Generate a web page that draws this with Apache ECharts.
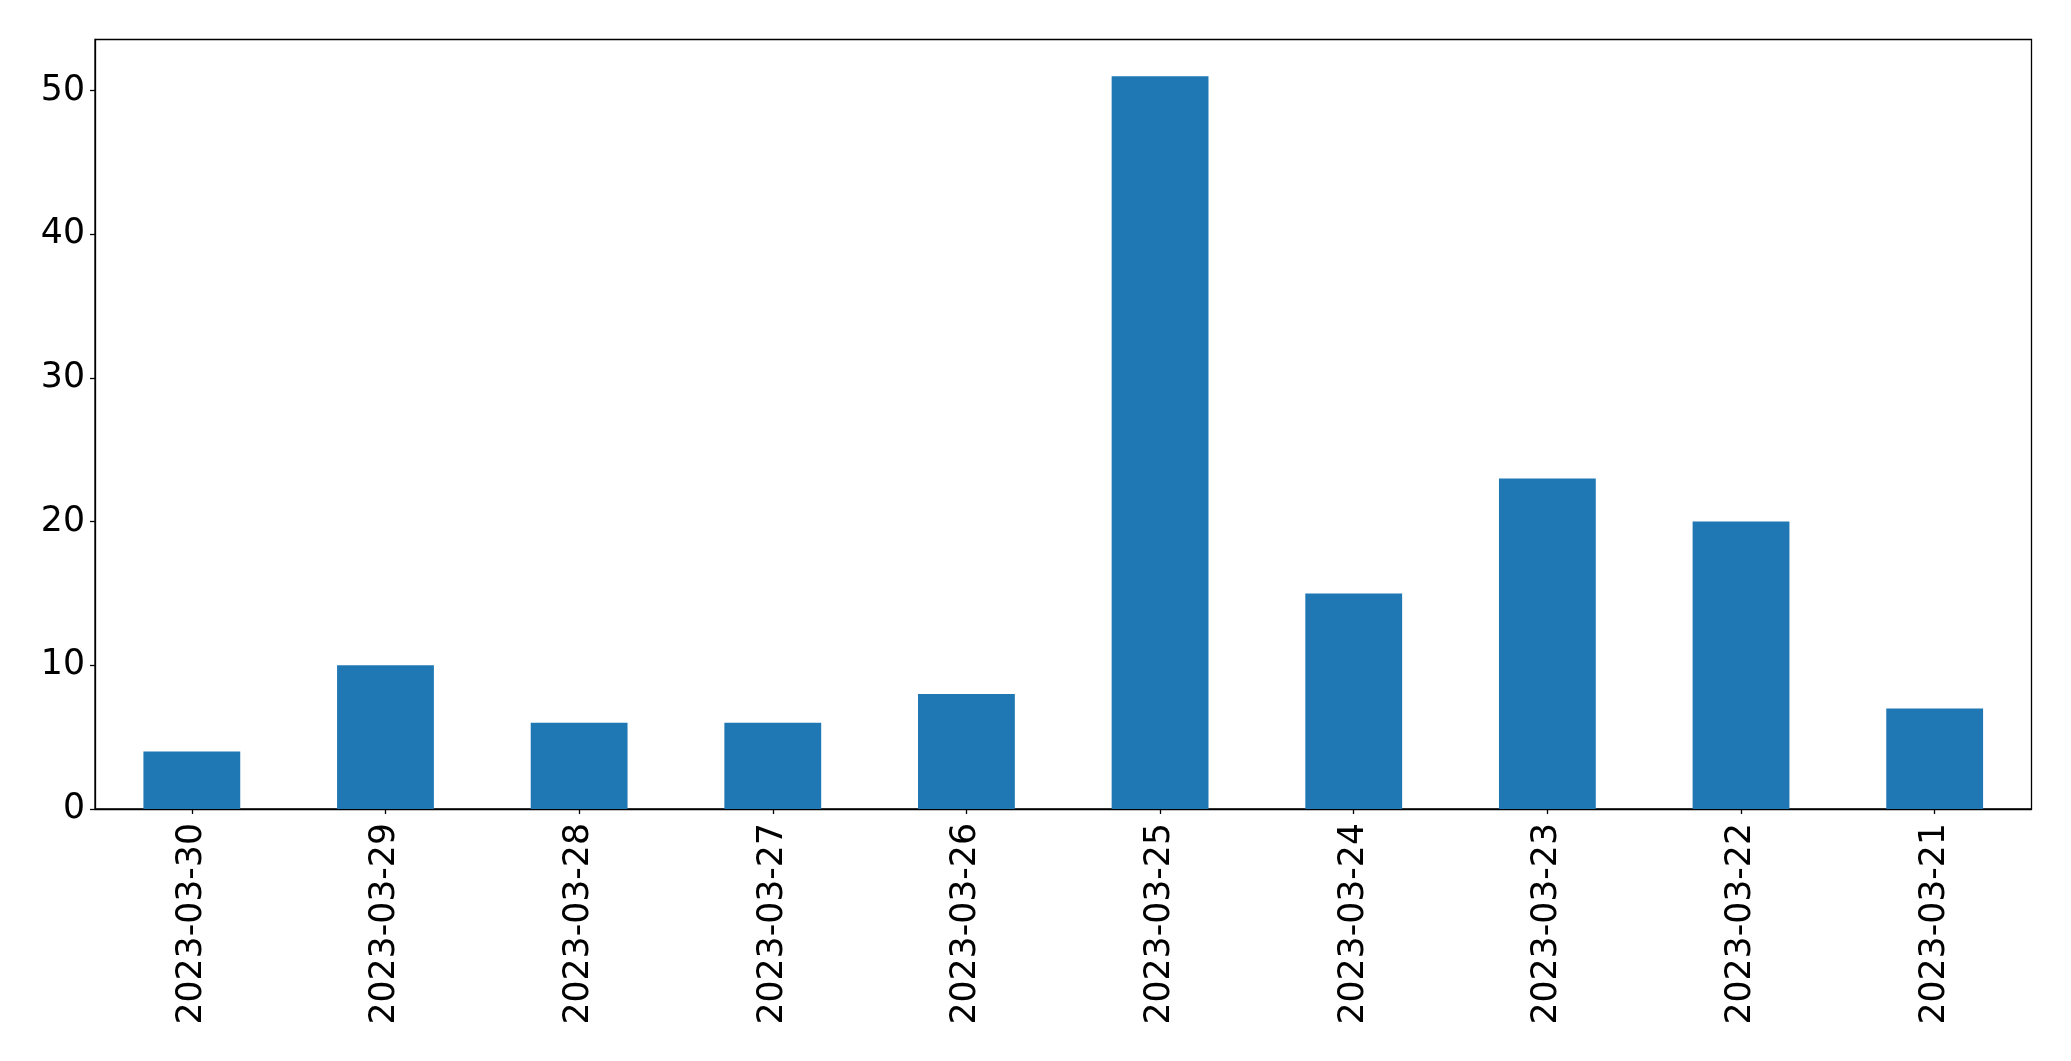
<!DOCTYPE html>
<html>
<head>
<meta charset="utf-8">
<script src="https://cdn.jsdelivr.net/npm/echarts@6/dist/echarts.min.js"></script>
<style>html,body{margin:0;padding:0;background:#fff;}#c{width:2071px;height:1061px;}</style>
</head>
<body>
<div id="c"></div>
<script>
const categories = ['2023-03-30','2023-03-29','2023-03-28','2023-03-27','2023-03-26','2023-03-25','2023-03-24','2023-03-23','2023-03-22','2023-03-21'];
const values = [4, 10, 6, 6, 8, 51, 15, 23, 20, 7];
const yTicks = [0, 10, 20, 30, 40, 50];

const chart = echarts.init(document.getElementById('c'), null, {renderer: 'canvas'});
chart.setOption({
  animation: false,
  backgroundColor: '#fff',
  textStyle: {fontFamily: 'DejaVu Sans'},
  grid: {left: 95, right: 39.5, top: 39.5, bottom: 252, show: true, borderColor: '#000', borderWidth: 1.3, backgroundColor: 'transparent'},
  xAxis: {
    type: 'category',
    data: categories,
    axisLine: {show: true, lineStyle: {color: '#000', width: 1.3}},
    axisTick: {show: true, alignWithLabel: true, length: 5, lineStyle: {color: '#000', width: 1.3}},
    axisLabel: {rotate: 90, fontSize: 34.7, color: '#000', margin: 14, fontFamily: 'DejaVu Sans'},
    splitLine: {show: false}
  },
  yAxis: {
    type: 'value',
    min: 0,
    max: 53.55,
    interval: 10,
    axisLine: {show: true, lineStyle: {color: '#000', width: 1.3}},
    axisTick: {show: true, length: 5, lineStyle: {color: '#000', width: 1.3}, customValues: yTicks},
    axisLabel: {fontSize: 34.7, color: '#000', margin: 10, fontFamily: 'DejaVu Sans', customValues: yTicks},
    splitLine: {show: false}
  },
  series: [{
    type: 'bar',
    data: values,
    barWidth: '50%',
    itemStyle: {color: '#1f77b4'}
  }]
});
</script>
</body>
</html>
